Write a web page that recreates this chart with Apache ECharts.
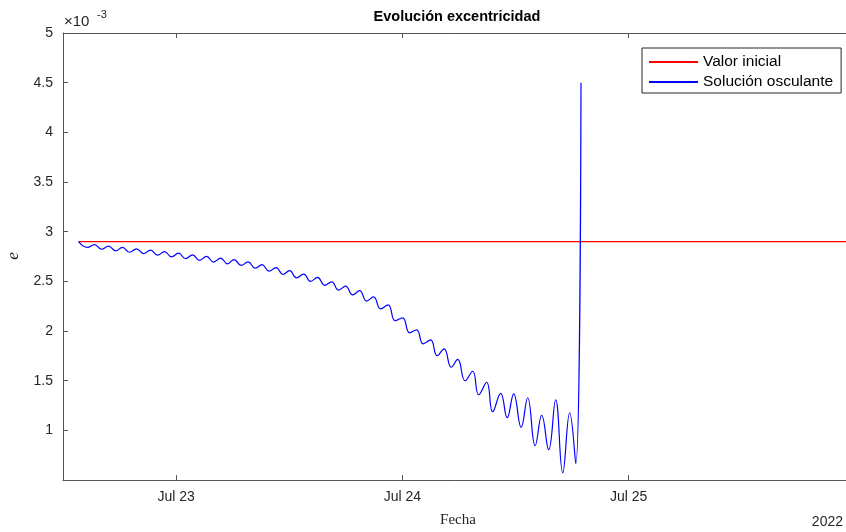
<!DOCTYPE html>
<html><head><meta charset="utf-8">
<script src="https://cdn.jsdelivr.net/npm/echarts@6/dist/echarts.min.js"></script>
<style>html,body{margin:0;padding:0;background:#fff}#c{width:846px;height:532px}</style>
</head><body><div id="c"></div>
<script>
// Hours elapsed since 2022-07-22 12:00
const hours = [1.65, 2.60, 3.34, 4.09, 4.83, 5.57, 6.31, 7.06, 7.80, 8.54,
  9.28, 10.03, 10.77, 11.51, 12.26, 13.00, 13.74, 14.48, 15.23, 15.97,
  16.71, 17.45, 18.14, 18.89, 19.63, 20.37, 21.11, 21.86, 22.60, 23.34,
  24.03, 24.77, 25.52, 26.26, 27.00, 27.75, 28.49, 29.23, 29.97, 30.72,
  31.46, 32.20, 32.94, 33.69, 34.48, 35.23, 36.02, 36.76, 37.51, 38.20,
  38.99, 39.68, 40.42, 41.17, 41.86, 42.65, 43.45, 44.09, 44.93, 45.57,
  46.42, 47.11, 47.80, 48.59, 49.28, 50.08, 50.77, 51.51, 52.25, 53.00,
  53.74, 54.38, 54.94];
// Osculating eccentricity, in units of 1e-3
const ecc = [2.900, 2.842, 2.870, 2.823, 2.855, 2.807, 2.842, 2.793, 2.827, 2.779,
  2.815, 2.764, 2.799, 2.746, 2.783, 2.728, 2.767, 2.711, 2.751, 2.694,
  2.734, 2.676, 2.719, 2.661, 2.696, 2.632, 2.668, 2.602, 2.639, 2.569,
  2.608, 2.535, 2.573, 2.499, 2.539, 2.460, 2.495, 2.412, 2.451, 2.364,
  2.406, 2.301, 2.344, 2.223, 2.264, 2.103, 2.133, 1.982, 2.012, 1.871,
  1.911, 1.751, 1.821, 1.635, 1.715, 1.499, 1.595, 1.358, 1.484, 1.187,
  1.373, 1.127, 1.368, 1.031, 1.328, 0.845, 1.152, 0.805, 1.308, 0.573,
  1.177, 0.664, 4.500];
// Initial value line
const initHours = [1.65, 84];
const initEcc = [2.9, 2.9];
// Axis ticks
const xTickHours = [12, 36, 60];
const xTickLabels = ['Jul 23', 'Jul 24', 'Jul 25'];
const yTicks = [1, 1.5, 2, 2.5, 3, 3.5, 4, 4.5, 5];
const yTickLabels = ['1', '1.5', '2', '2.5', '3', '3.5', '4', '4.5', '5'];

const SANS = '"Liberation Sans", Arial, Helvetica, sans-serif';
const SERIF = '"Liberation Serif", "DejaVu Serif", serif';
const AX = '#555555', TXT = '#262626';

const osc = hours.map((h, i) => [h, ecc[i]]);
const init = initHours.map((h, i) => [h, initEcc[i]]);

const chart = echarts.init(document.getElementById('c'), null, {renderer: 'canvas'});
const xBase = {
  type: 'value', min: 0, max: 84,
  axisLine: {show: true, onZero: false, lineStyle: {color: AX, width: 1}},
  axisTick: {show: true, inside: true, length: 5, customValues: xTickHours, lineStyle: {color: AX}},
  splitLine: {show: false}
};
chart.setOption({
  animation: false,
  backgroundColor: '#fff',
  grid: {left: 63, top: 33, width: 792, height: 447, containLabel: false, outerBoundsMode: 'none'},
  xAxis: [
    Object.assign({}, xBase, {
      position: 'bottom',
      axisLabel: {show: true, customValues: xTickHours, margin: 10, fontSize: 14, fontFamily: SANS, color: TXT,
        formatter: v => xTickLabels[xTickHours.indexOf(v)] || ''}
    }),
    Object.assign({}, xBase, {position: 'top', axisLabel: {show: false}})
  ],
  yAxis: [{
    type: 'value', min: 0.5, max: 5,
    axisLine: {show: true, onZero: false, lineStyle: {color: AX, width: 1}},
    axisTick: {show: true, inside: true, length: 5, customValues: yTicks, lineStyle: {color: AX}},
    axisLabel: {show: true, customValues: yTicks, margin: 10, fontSize: 14, fontFamily: SANS, color: TXT,
      formatter: v => yTickLabels[yTicks.indexOf(v)] || ''},
    splitLine: {show: false}
  }],
  legend: {
    show: true, orient: 'vertical', left: 642, top: 48,
    padding: [6, 8, 3, 6], itemGap: 4, itemWidth: 49, itemHeight: 14,
    borderColor: '#262626', borderWidth: 1, backgroundColor: '#fff', borderRadius: 0,
    itemStyle: {opacity: 0, borderWidth: 0},
    textStyle: {fontSize: 15.5, fontFamily: SANS, color: '#000'},
    data: ['Valor inicial', 'Solución osculante']
  },
  series: [
    {name: 'Valor inicial', type: 'line', data: init, symbol: 'none', silent: true,
      lineStyle: {color: '#ff0000', width: 1.4}, itemStyle: {color: '#ff0000'}, z: 2},
    {name: 'Solución osculante', type: 'line', data: osc, symbol: 'none', smooth: 0.45, silent: true,
      lineStyle: {color: '#0000ff', width: 1.2}, itemStyle: {color: '#0000ff'}, z: 3}
  ],
  graphic: [
    {type: 'text', x: 457, y: 17, style: {text: 'Evolución excentricidad', font: 'bold 14.5px ' + SANS, fill: '#000', align: 'center', verticalAlign: 'middle'}},
    {type: 'text', x: 64, y: 22, style: {text: '×10', font: '15px ' + SANS, fill: TXT, align: 'left', verticalAlign: 'middle'}},
    {type: 'text', x: 97, y: 15, style: {text: '-3', font: '11px ' + SANS, fill: TXT, align: 'left', verticalAlign: 'middle'}},
    {type: 'text', x: 14, y: 256, rotation: Math.PI / 2, style: {text: 'e', font: 'italic 17px ' + SERIF, fill: TXT, align: 'center', verticalAlign: 'middle'}},
    {type: 'text', x: 458, y: 520, style: {text: 'Fecha', font: '15px ' + SERIF, fill: TXT, align: 'center', verticalAlign: 'middle'}},
    {type: 'text', x: 843, y: 522, style: {text: '2022', font: '14px ' + SANS, fill: TXT, align: 'right', verticalAlign: 'middle'}}
  ]
});
</script>
</body></html>
